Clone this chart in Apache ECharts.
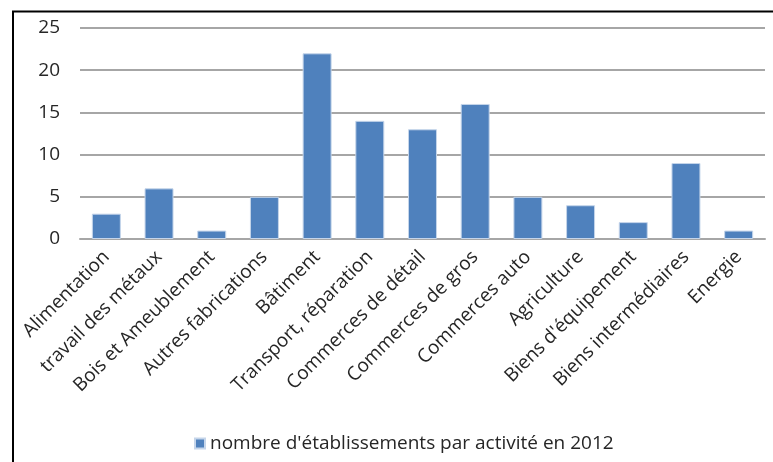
<!DOCTYPE html>
<html><head><meta charset="utf-8">
<script src="https://cdn.jsdelivr.net/npm/echarts@6/dist/echarts.min.js"></script>
<style>html,body{margin:0;padding:0;background:#fff}#c{width:773px;height:462px}</style>
</head><body><div id="c"></div>
<script>
const categories = ["Alimentation","travail des métaux","Bois et Ameublement","Autres fabrications","Bâtiment","Transport, réparation","Commerces de détail","Commerces de gros","Commerces auto","Agriculture","Biens d'équipement","Biens intermédiaires","Energie"];
const values = [3, 6, 1, 5, 22, 14, 13, 16, 5, 4, 2, 9, 1];
const seriesName = "nombre d'établissements par activité en 2012";
const yTicks = [0, 5, 10, 15, 20, 25];

const font = "Open Sans";
const chart = echarts.init(document.getElementById('c'), null, {renderer: 'canvas'});
chart.setOption({
  animation: false,
  backgroundColor: '#fff',
  grid: {left: 80, right: 8, top: 28, bottom: 223, containLabel: false},
  legend: {
    top: 429, left: 189,
    itemWidth: 10, itemHeight: 10, itemGap: 6,
    icon: 'rect',
    textStyle: {fontFamily: font, fontSize: 19, color: '#262626'},
    data: [seriesName]
  },
  xAxis: {
    type: 'category', data: categories,
    axisLine: {lineStyle: {color: '#A6A6A6', width: 2}},
    axisTick: {show: false},
    axisLabel: {rotate: 45, interval: 0, margin: 15, fontFamily: font, fontSize: 19, color: '#262626'}
  },
  yAxis: {
    type: 'value', min: yTicks[0], max: yTicks[yTicks.length - 1], interval: 5,
    axisLine: {show: false}, axisTick: {show: false},
    splitLine: {lineStyle: {color: '#A6A6A6', width: 2}},
    axisLabel: {margin: 20, fontFamily: font, fontSize: 19, color: '#262626'}
  },
  series: [{
    name: seriesName, type: 'bar', data: values, barWidth: '55%',
    itemStyle: {color: '#4F81BD', borderColor: '#C5D5EA', borderWidth: 1}
  }],
  graphic: [
    {type: 'line', shape: {x1: 13, y1: 11, x2: 13, y2: 462}, style: {stroke: '#000', lineWidth: 2}},
    {type: 'line', shape: {x1: 12, y1: 11.5, x2: 773, y2: 11.5}, style: {stroke: '#000', lineWidth: 2}}
  ]
});
</script></body></html>
